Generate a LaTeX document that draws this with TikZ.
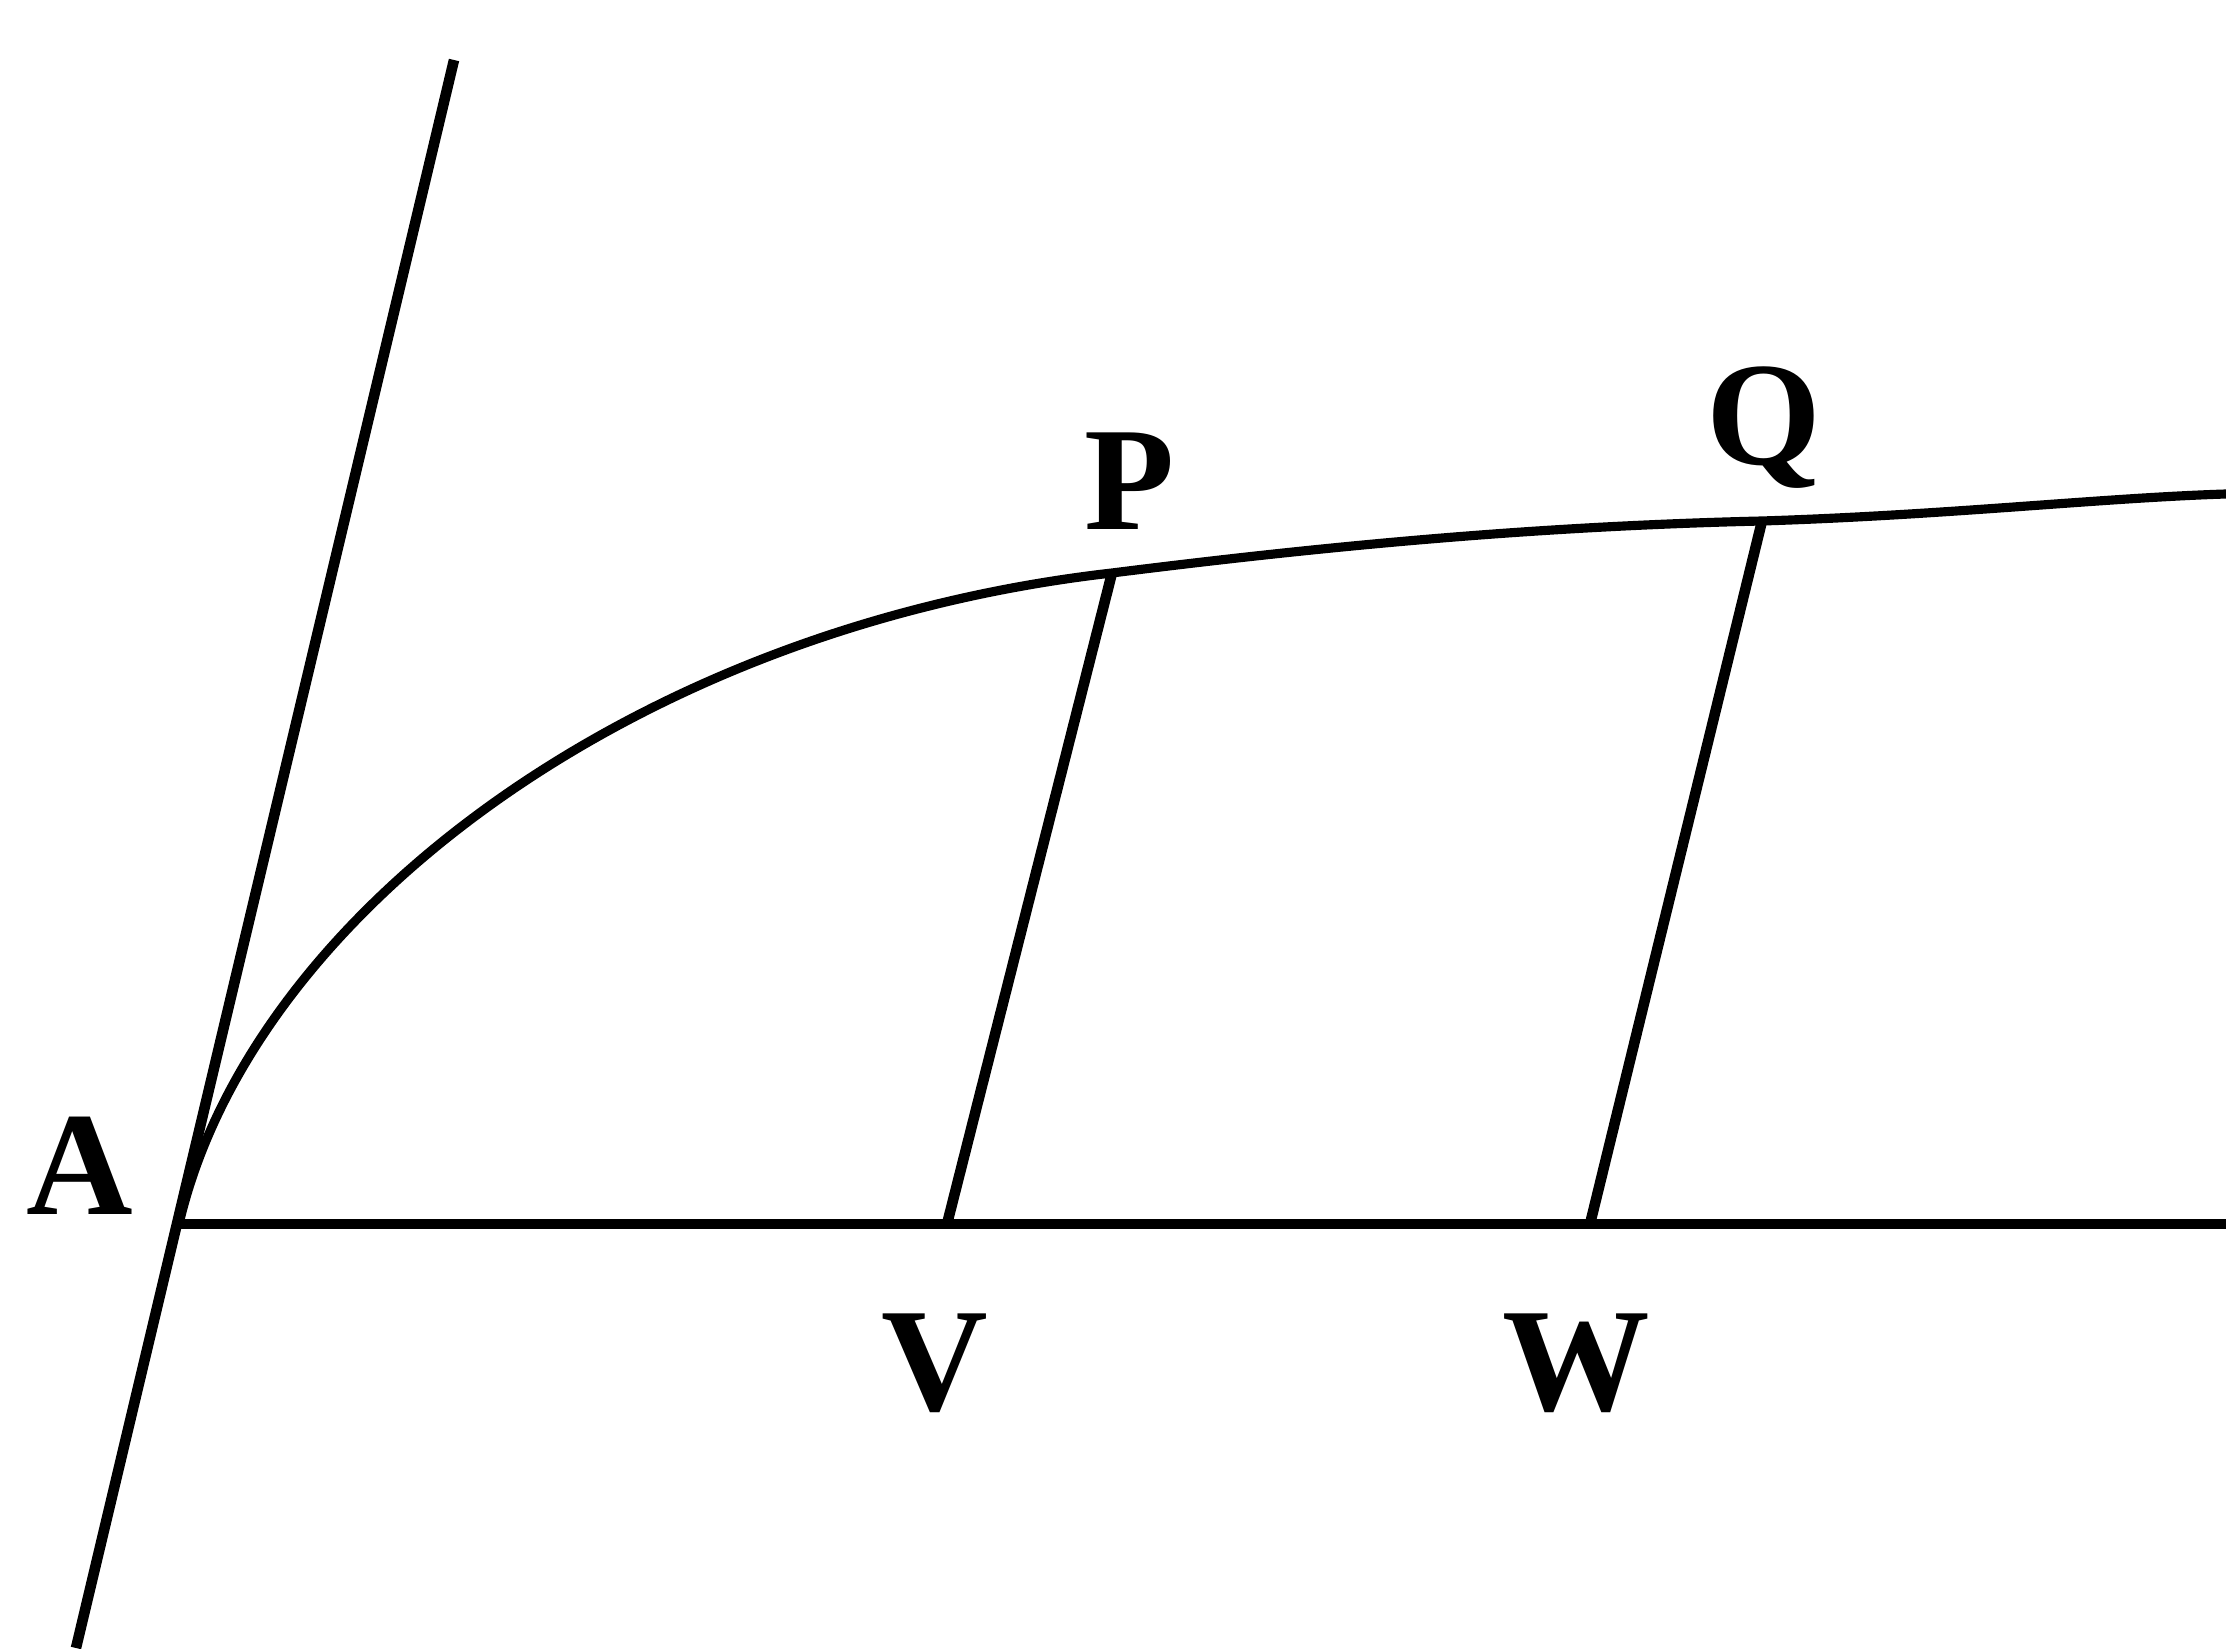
\documentclass[tikz,border=0pt]{standalone}
\usepackage{fontspec}
\setmainfont{Liberation Serif}
\begin{document}
\begin{tikzpicture}[
                line width=3pt,
                every node/.style={inner sep=0pt,anchor=base,font=\bfseries\fontsize{42}{46}\selectfont},
                curve/.style={line width=2.6pt}
            ]
            \useasboundingbox (0,0) rectangle (22.26,16.48);

            % points on the figure
            \coordinate (A) at (1.79,4.24);
            \coordinate (P) at (11.12,10.75);
            \coordinate (Q) at (17.62,11.27);
            \coordinate (V) at (9.47,4.24);
            \coordinate (W) at (15.90,4.24);
            \coordinate (slantbot) at (0.76,0);
            \coordinate (slanttop) at (4.54,15.88);
            \coordinate (baseend) at (22.26,4.24);
            \coordinate (curveend) at (22.26,11.54);

            % labels
            \node (labA) at (0.80,4.33) {A};
            \node (labP) at (11.30,11.18) {P};
            \node (labQ) at (17.64,11.83) {Q};
            \node (labV) at (9.35,2.38) {V};
            \node (labW) at (15.76,2.38) {W};

            \draw (slantbot) -- (slanttop);
            \draw (A) -- (baseend);
            \draw (P) -- (V);
            \draw (Q) -- (W);
            \draw[curve] (A) .. controls (2.5,7.3) and (6.3,10.2) .. (P)
                .. controls (13.5,11.05) and (15.5,11.22) .. (Q)
                .. controls (19.5,11.33) and (21,11.5) .. (curveend);

        \end{tikzpicture}
\end{document}
